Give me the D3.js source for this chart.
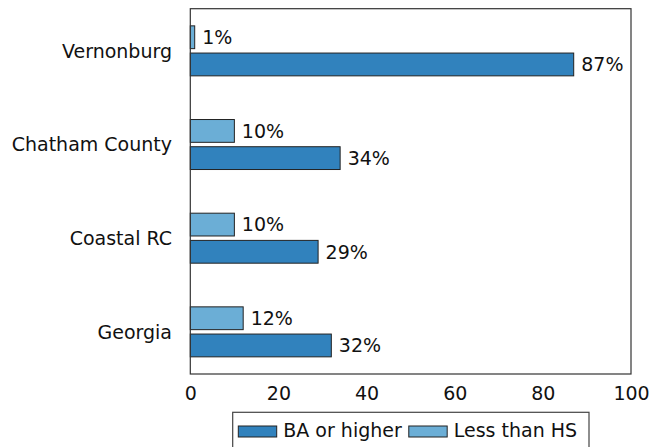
<!DOCTYPE html>
<html><head><meta charset="utf-8">
<script src="https://cdn.jsdelivr.net/npm/d3@7"></script>
<style>body{margin:0;background:#fff}svg{display:block}text{font-family:"DejaVu Sans",sans-serif;fill:#111}</style>
</head><body>
<svg id="c" width="662" height="447"></svg>
<script>
const categories = ["Vernonburg", "Chatham County", "Coastal RC", "Georgia"];
const baOrHigher = [87, 34, 29, 32];
const lessThanHS = [1, 10, 10, 12];
const seriesNames = ["BA or higher", "Less than HS"];
const xTicks = [0, 20, 40, 60, 80, 100];
const colors = {ba: "#3182bd", hs: "#6baed6"};

(function () {
const svg = d3.select("#c");
const fs = 19;
const off = 6.9;
const pLeft = 190.3, pRight = 631, pTop = 8.7, pBottom = 374;
const x = d3.scaleLinear().domain([0, 100]).range([pLeft, pRight]);
const y = d3.scalePoint().domain(categories).range([pTop, pBottom]).padding(0.45);
const bh = 22.8, gap = 2.2;

const g = svg.append("g");
categories.forEach((c, i) => {
  const cy = y(c);
  g.append("rect").attr("x", x(0)).attr("y", cy - gap - bh)
    .attr("width", x(lessThanHS[i]) - x(0)).attr("height", bh)
    .attr("fill", colors.hs).attr("stroke", "#222").attr("stroke-width", 1);
  g.append("rect").attr("x", x(0)).attr("y", cy + gap)
    .attr("width", x(baOrHigher[i]) - x(0)).attr("height", bh)
    .attr("fill", colors.ba).attr("stroke", "#222").attr("stroke-width", 1);
  g.append("text").attr("x", x(lessThanHS[i]) + 7.5).attr("y", cy - gap - bh / 2 + off)
    .attr("font-size", fs).text(lessThanHS[i] + "%");
  g.append("text").attr("x", x(baOrHigher[i]) + 7.5).attr("y", cy + gap + bh / 2 + off)
    .attr("font-size", fs).text(baOrHigher[i] + "%");
  svg.append("text").attr("x", 172).attr("y", cy + off).attr("text-anchor", "end")
    .attr("font-size", fs).text(c);
});

svg.append("rect").attr("x", pLeft).attr("y", pTop).attr("width", pRight - pLeft).attr("height", pBottom - pTop)
  .attr("fill", "none").attr("stroke", "#333").attr("stroke-width", 1.2);

const ax = svg.append("g").attr("transform", `translate(0,${pBottom})`)
  .call(d3.axisBottom(x).tickValues(xTicks).tickSize(0).tickPadding(12.5).tickFormat(d3.format("d")));
ax.select(".domain").remove();
ax.selectAll("text").attr("font-size", fs).attr("font-family", '"DejaVu Sans",sans-serif').attr("fill", "#111");

const lg = svg.append("g");
lg.append("rect").attr("x", 232.7).attr("y", 412.3).attr("width", 356.3).attr("height", 50)
  .attr("fill", "#fff").attr("stroke", "#444").attr("stroke-width", 1.2);
let lx = 238.3;
[[seriesNames[0], colors.ba], [seriesNames[1], colors.hs]].forEach(([name, col]) => {
  lg.append("rect").attr("x", lx).attr("y", 426).attr("width", 38.4).attr("height", 11)
    .attr("fill", col).attr("stroke", "#222").attr("stroke-width", 1);
  const t = lg.append("text").attr("x", lx + 45).attr("y", 437).attr("font-size", fs).text(name);
  lx = lx + 45 + t.node().getComputedTextLength() + 7;
});
})();
</script>
</body></html>
